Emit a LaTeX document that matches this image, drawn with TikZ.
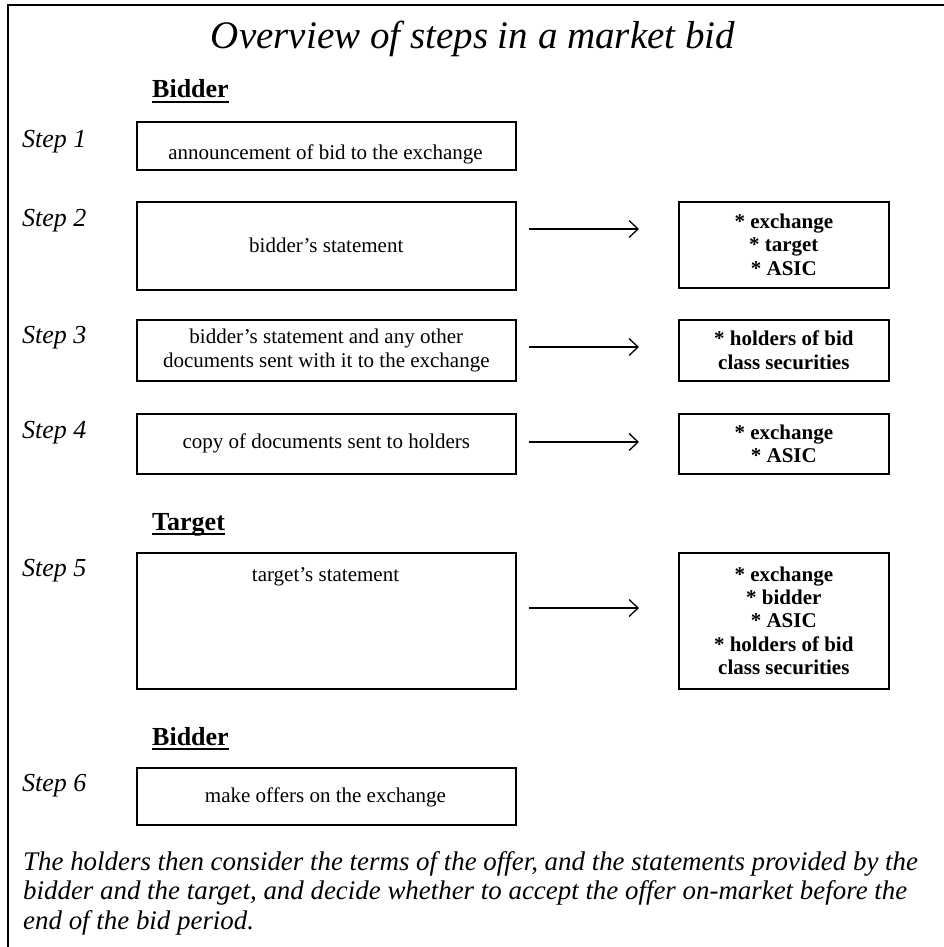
\documentclass[tikz,border=0pt]{standalone}
\usepackage{fontspec}
\setmainfont{Liberation Serif}
\usetikzlibrary{arrows.meta}
\newcommand{\myTitle}{\fontsize{39}{44}\selectfont\itshape}
\newcommand{\myBody}{\fontsize{21}{24}\selectfont}
\newcommand{\myRbox}{\fontsize{21}{23.3}\selectfont\bfseries}
\newcommand{\myStep}{\fontsize{26}{30}\selectfont\itshape}
\newcommand{\myHead}{\fontsize{26}{30}\selectfont\bfseries}
\newcommand{\myPara}{\fontsize{26.9}{29.5}\selectfont\itshape}
\begin{document}
\begin{tikzpicture}[x=1pt,y=-1pt,
  box/.style={draw, line width=1.6pt, minimum width=379pt, inner sep=0pt, anchor=north west, font=\myBody, align=center},
  rbox/.style={draw, line width=1.6pt, minimum width=210pt, inner sep=0pt, anchor=north west, font=\myRbox, align=center},
  boxtext/.style={inner sep=0pt, font=\myBody, align=center},
  steplabel/.style={anchor=base west, inner sep=0pt, font=\myStep},
  heading/.style={anchor=base west, inner sep=0pt, font=\myHead},
  arr/.style={line width=1.3pt, -{Straight Barb[length=9pt,width=17pt,line width=1.3pt]}},
  uline/.style={line width=2.4pt},
  frame/.style={line width=2.4pt}
]
\useasboundingbox (0,0) rectangle (944,947);
% frame (top and left only)
\draw[frame] (944,5) -- (8,5) -- (8,947);

% title
\node[font=\myTitle, inner sep=0pt] (title) at (473,39) {Overview of steps in a market bid};

% headings
\node[heading] (h1) at (152,98) {Bidder};
\draw[uline] ([yshift=-4pt]h1.base west) -- ([yshift=-4pt]h1.base east);
\node[heading] (h2) at (152,530) {Target};
\draw[uline] ([yshift=-4pt]h2.base west) -- ([yshift=-4pt]h2.base east);
\node[heading] (h3) at (152,745) {Bidder};
\draw[uline] ([yshift=-4pt]h3.base west) -- ([yshift=-4pt]h3.base east);

% step labels
\node[steplabel] (s1) at (22,147) {Step 1};
\node[steplabel] (s2) at (22,226) {Step 2};
\node[steplabel] (s3) at (22,343) {Step 3};
\node[steplabel] (s4) at (22,438) {Step 4};
\node[steplabel] (s5) at (22,576) {Step 5};
\node[steplabel] (s6) at (22,791) {Step 6};

% left boxes
\node[box, minimum height=48pt] (b1) at (136,121) {};
\node[boxtext] (t1) at (325.5,154) {announcement of bid to the exchange};
\node[box, minimum height=88pt] (b2) at (136,201) {bidder’s statement};
\node[box, minimum height=61pt] (b3) at (136,319) {bidder’s statement and any other\\documents sent with it to the exchange};
\node[box, minimum height=60pt] (b4) at (136,413) {copy of documents sent to holders};
\node[box, minimum height=136pt] (b5) at (136,552) {};
\node[boxtext] (t5) at (325.5,577) {target’s statement};
\node[box, minimum height=57pt] (b6) at (136,767) {};
\node[boxtext] (t6) at (325.5,797) {make offers on the exchange};

% right boxes
\node[rbox, minimum height=86pt] (r2) at (678,201) {* exchange\\* target\\* ASIC};
\node[rbox, minimum height=61pt] (r3) at (678,319) {* holders of bid\\class securities};
\node[rbox, minimum height=60pt] (r4) at (678,413) {* exchange\\* ASIC};
\node[rbox, minimum height=136pt] (r5) at (678,552) {* exchange\\* bidder\\* ASIC\\* holders of bid\\class securities};

% arrows
\coordinate (a2s) at (529,229); \coordinate (a2e) at (639,229);
\coordinate (a3s) at (529,347); \coordinate (a3e) at (639,347);
\coordinate (a4s) at (529,442); \coordinate (a4e) at (639,442);
\coordinate (a5s) at (529,608); \coordinate (a5e) at (639,608);
\draw[arr] (a2s) -- (a2e);
\draw[arr] (a3s) -- (a3e);
\draw[arr] (a4s) -- (a4e);
\draw[arr] (a5s) -- (a5e);

% closing paragraph
\node[anchor=north west, inner sep=0pt, font=\myPara, align=left] (para) at (23,851)
  {The holders then consider the terms of the offer, and the statements provided by the\\
   bidder and the target, and decide whether to accept the offer on-market before the\\
   end of the bid period.};
\end{tikzpicture}
\end{document}
